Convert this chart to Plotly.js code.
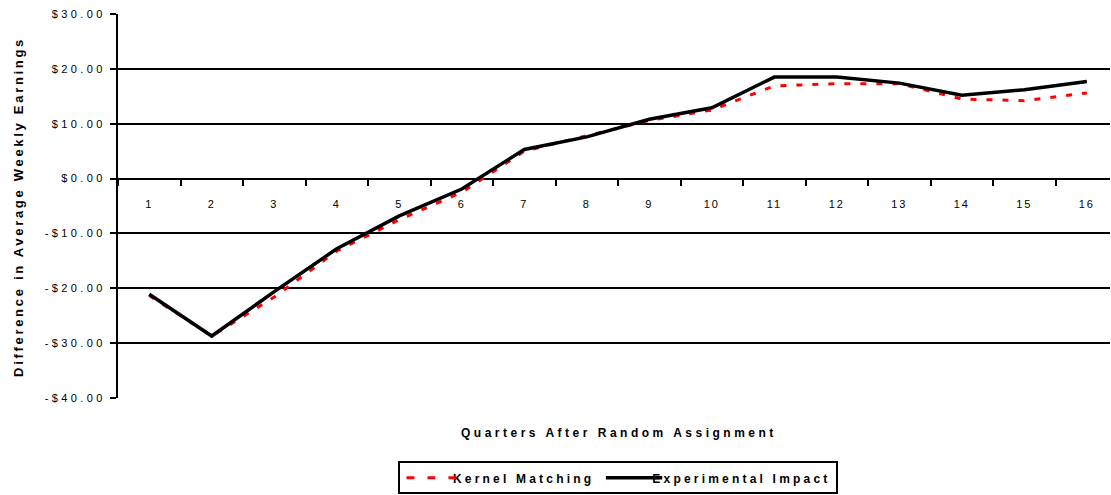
<!DOCTYPE html>
<html><head><meta charset="utf-8">
<script src="https://cdn.plot.ly/plotly-3.0.1.min.js"></script>
<style>
html,body{margin:0;padding:0;overflow:hidden;background:#fff;}
.ytick text{letter-spacing:3.4px;}
.xtick text{letter-spacing:2px;}
.legendtext{letter-spacing:3.2px;}
.annotation-text{letter-spacing:3.5px;}
text[data-unformatted^="Difference"]{letter-spacing:2.7px;}
.legendlines path{transform:scaleX(1.31);}
</style>
</head><body>
<div id="chart" style="width:1111px;height:495px;"></div>
<script>
const quarters = ["1","2","3","4","5","6","7","8","9","10","11","12","13","14","15","16"];
const kernelMatching = [-21.3,-28.7,-21.6,-13.2,-7.5,-2.5,5.0,7.8,10.6,12.5,16.9,17.3,17.3,14.5,14.2,15.6];
const experimentalImpact = [-21.1,-28.7,-20.6,-12.8,-6.8,-1.9,5.3,7.6,10.8,12.9,18.5,18.5,17.4,15.2,16.2,17.7];
const yTickVals = [-40,-30,-20,-10,0,10,20,30];
const yTickText = ["-$40.00","-$30.00","-$20.00","-$10.00","$0.00","$10.00","$20.00","$30.00"];

const FONT = "Liberation Sans, Arial, sans-serif";

const traces = [
  {x: quarters, y: kernelMatching, name: "Kernel Matching", type: "scatter", mode: "lines",
   line: {color: "#ff0000", width: 3, dash: "6px,10px"}},
  {x: quarters, y: experimentalImpact, name: "Experimental Impact", type: "scatter", mode: "lines",
   line: {color: "#000000", width: 3.5}}
];

const layout = {
  width: 1111, height: 495,
  margin: {l: 118, r: 1, t: 14, b: 95},
  paper_bgcolor: "#fff", plot_bgcolor: "#fff",
  font: {family: FONT, color: "#000", size: 11},
  showlegend: true,
  legend: {orientation: "h", x: 0.504, xanchor: "center", y: -0.165, yanchor: "top",
           bordercolor: "#000", borderwidth: 2, font: {family: FONT, size: 12, weight: "bold", color: "#000"},
           itemwidth: 43, tracegroupgap: 0},
  xaxis: {type: "category", range: [-0.5, 15.37], anchor: "free", position: 40/70,
          showgrid: false, zeroline: false, showline: false,
          ticks: "outside", tickson: "boundaries", ticklen: 6, tickwidth: 2, tickcolor: "#000",
          ticklabelstandoff: 17, tickfont: {family: FONT, size: 11, color: "#000"}, fixedrange: true},
  yaxis: {range: [-40, 30], tickvals: yTickVals, ticktext: yTickText,
          showgrid: true, gridcolor: "#000", gridwidth: 2,
          zeroline: true, zerolinecolor: "#000", zerolinewidth: 2,
          showline: true, linecolor: "#000", linewidth: 2,
          ticks: "outside", ticklen: 6, tickwidth: 2, tickcolor: "#000",
          ticklabelstandoff: 2,
          tickfont: {family: FONT, size: 11, color: "#000"}, fixedrange: true},
  annotations: [
    {text: "Quarters After Random Assignment", xref: "paper", yref: "paper", x: 0.505, y: -0.09,
     xanchor: "center", yanchor: "middle", showarrow: false,
     font: {family: FONT, size: 12, weight: "bold", color: "#000"}},
    {text: "Difference in Average Weekly Earnings", xref: "paper", yref: "paper",
     x: -0.101, y: 0.497, xanchor: "center", yanchor: "middle", textangle: -90, showarrow: false,
     font: {family: FONT, size: 13, weight: "bold", color: "#000"}}
  ]
};

Plotly.newPlot("chart", traces, layout, {displayModeBar: false, staticPlot: true});
</script>
</body></html>
